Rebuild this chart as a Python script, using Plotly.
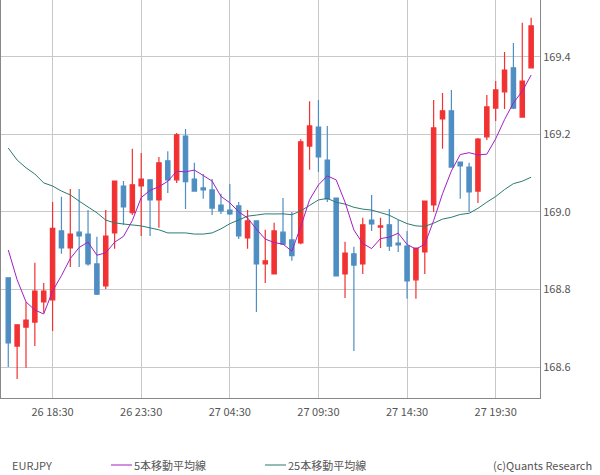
import plotly.graph_objects as go

opens = [168.830,168.654,168.703,168.716,168.768,168.773,168.951,168.907,168.948,168.943,
         168.866,168.809,168.946,169.067,168.998,169.067,169.083,169.031,169.132,169.083,
         169.196,169.085,169.062,169.057,169.018,169.005,169.016,168.933,168.977,168.866,
         168.840,168.948,168.928,168.920,169.170,169.219,169.134,169.036,168.840,168.892,
         168.866,168.979,168.961,168.967,168.920,168.912,168.825,168.897,169.018,169.240,
         169.261,169.129,169.116,169.054,169.194,169.268,169.310,169.372,169.245,169.372]
highs = [168.830,168.709,168.768,168.869,168.817,169.026,169.039,169.059,169.059,169.005,
         168.936,169.005,169.080,169.080,169.163,169.152,169.083,169.142,169.157,169.204,
         169.214,169.127,169.098,169.085,169.047,169.072,169.026,169.005,168.977,168.954,
         168.972,169.036,169.000,169.188,169.286,169.289,169.222,169.036,168.923,168.910,
         168.985,169.044,168.985,169.008,168.979,168.951,168.907,169.028,169.289,169.307,
         169.315,169.129,169.127,169.191,169.302,169.338,169.413,169.436,169.488,169.501]
lows  = [168.600,168.569,168.598,168.654,168.740,168.693,168.892,168.858,168.858,168.861,
         168.786,168.801,168.905,168.967,168.992,168.938,168.938,168.959,169.049,169.075,
         169.008,169.054,169.034,168.992,168.995,168.992,168.930,168.905,168.742,168.817,
         168.840,168.917,168.874,168.917,169.109,169.103,169.026,168.835,168.778,168.641,
         168.840,168.951,168.907,168.899,168.897,168.776,168.776,168.840,169.000,169.163,
         169.116,169.034,169.000,169.023,169.186,169.235,169.266,169.266,169.243,169.372]
closes = [168.662,168.709,168.721,168.796,168.796,168.958,168.907,168.943,168.938,168.866,
          168.788,168.938,169.080,169.013,169.070,169.085,169.031,169.127,169.083,169.199,
          169.078,169.054,169.057,169.010,169.003,168.995,168.938,168.977,168.866,168.874,
          168.951,168.917,168.887,169.181,169.222,169.142,169.034,168.835,168.894,168.863,
          168.967,168.969,168.964,168.912,168.915,168.822,168.907,169.028,169.217,169.261,
          169.116,169.119,169.052,169.188,169.271,169.315,169.366,169.268,169.338,169.480]
ma5_head = [168.902,168.825,168.768,168.747]
ma25_head = [169.165,169.134,169.114,169.098,169.075,169.067,169.054,169.044,169.028,169.013,
             168.998,168.979,168.972,168.969,168.967,168.964,168.959,168.954,168.946,168.946,
             168.946,168.943,168.943,168.946]
tick_idx = [5,15,25,35,45,55]
tick_labels = ["26 18:30","26 23:30","27 04:30","27 09:30","27 14:30","27 19:30"]

n = len(closes)
x = list(range(n))
ma5 = ma5_head + [sum(closes[i-4:i+1])/5 for i in range(4, n)]
ma25 = ma25_head + [sum(closes[i-24:i+1])/25 for i in range(24, n)]

RED = "#f23232"; BLUE = "#4f8ec2"; PURPLE = "#a21fc4"; TEAL = "#2b7a70"
fig = go.Figure()
fig.add_trace(go.Candlestick(x=x, open=opens, high=highs, low=lows, close=closes,
    increasing=dict(line=dict(color=RED, width=1.2), fillcolor=RED),
    decreasing=dict(line=dict(color=BLUE, width=1.2), fillcolor=BLUE),
    whiskerwidth=0, showlegend=False, hoverinfo="skip"))
fig.add_trace(go.Scatter(x=x, y=ma25, mode="lines", line=dict(color=TEAL, width=1), showlegend=False))
fig.add_trace(go.Scatter(x=x, y=ma5, mode="lines", line=dict(color=PURPLE, width=1), showlegend=False))

font = dict(family="Noto Sans CJK JP", size=11, color="#555")
PH = 398
PL, PW = 1, 539
fig.update_layout(width=600, height=475, margin=dict(l=PL, r=600-PL-PW, t=0, b=475-PH, autoexpand=False),
    paper_bgcolor="white", plot_bgcolor="white", font=font,
    xaxis=dict(range=[-0.82, 60.0], tickvals=tick_idx, ticktext=tick_labels, rangeslider=dict(visible=False),
               showgrid=True, gridcolor="#c8c8c8", showline=True, linecolor="#888", mirror=True,
               ticks="", zeroline=False, automargin=False, ticklabelstandoff=4),
    yaxis=dict(range=[168.52, 169.547], side="right", tickvals=[168.6,168.8,169.0,169.2,169.4],
               tickformat=".1f", showgrid=True, gridcolor="#c8c8c8", showline=True, linecolor="#888",
               mirror=True, ticks="", zeroline=False, automargin=False))
ly = -(465-PH)/PH
def px2paper(p):
    return (p-PL)/PW
anns = [("EURJPY", 10, "left"), ("5本移動平均線", 132, "left"), ("25本移動平均線", 286, "left"),
        ("(c)Quants Research", 594, "right")]
for t, px, al in anns:
    fig.add_annotation(text=t, x=px2paper(px), xref="paper", y=ly, yref="paper",
                       xanchor=al, yanchor="middle", showarrow=False, font=font)
for x0, col in [(111, PURPLE), (265, TEAL)]:
    fig.add_shape(type="line", xref="paper", yref="paper", x0=px2paper(x0), x1=px2paper(x0+21),
                  y0=ly, y1=ly, line=dict(color=col, width=1))
fig.write_html("out.html", config={"displayModeBar": False},
               post_script="document.body.style.margin='0';document.body.style.overflow='hidden';")
